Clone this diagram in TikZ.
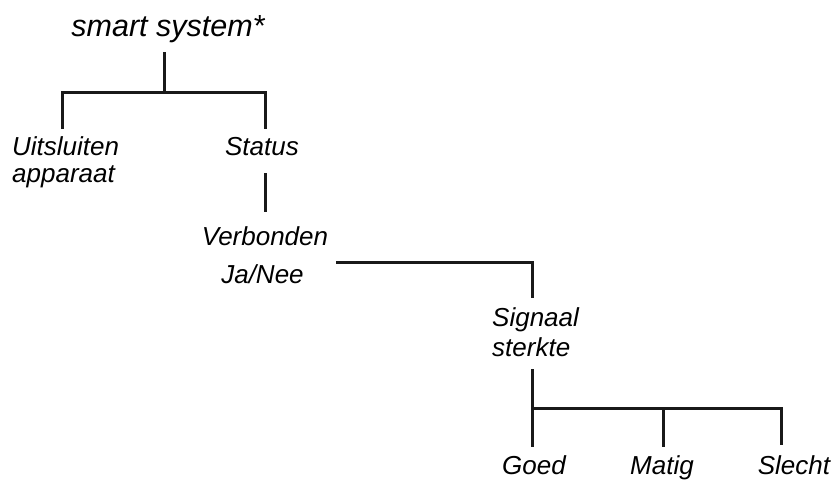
\documentclass[tikz,border=0pt]{standalone}
\usepackage{fontspec}
\setmainfont{Liberation Sans}
\begin{document}
\begin{tikzpicture}[x=1pt,y=-1pt,
  lbl/.style={inner sep=0pt, font=\fontsize{26}{27}\selectfont\itshape},
  ttl/.style={inner sep=0pt, font=\fontsize{30.5}{34}\selectfont\itshape},
  wire/.style={line width=3pt, line join=miter, color=black!90}]
\useasboundingbox (0,0) rectangle (836,480);
% texts
\node[ttl, anchor=base] (t) at (168,36) {smart system*};
\node[lbl, anchor=base west] (u) at (12,155) {\begin{tabular}[t]{@{}l@{}}Uitsluiten\\apparaat\end{tabular}};
\node[lbl, anchor=base] (st) at (262,155) {Status};
\node[lbl, anchor=base] (v) at (265,245) {Verbonden};
\node[lbl, anchor=base] (jn) at (262.5,283) {Ja/Nee};
\node[lbl, anchor=base west] (s) at (492,326) {\begin{tabular}[t]{@{}l@{}}Signaal\\[3pt]sterkte\end{tabular}};
\node[lbl, anchor=base] (g) at (534,474) {Goed};
\node[lbl, anchor=base] (m) at (662,474) {Matig};
\node[lbl, anchor=base] (sl) at (794,474) {Slecht};
% connector points
\coordinate (t0) at (164,52);
\coordinate (t1) at (164,92);
\coordinate (ua) at (62,129);
\coordinate (sa) at (265,129);
\coordinate (sb) at (265,173);
\coordinate (vb) at (265,212);
\coordinate (ja) at (336,262);
\coordinate (sg) at (532,298);
\coordinate (sd) at (532,369);
\coordinate (gd) at (532,447);
\coordinate (hb) at (532,408);
\coordinate (md) at (663,447);
\coordinate (sld) at (781,445);
% connectors
\draw[wire] (t0) -- (t1);
\draw[wire] (ua) |- (t1) -| (sa);
\draw[wire] (sb) -- (vb);
\draw[wire] (ja) -| (sg);
\draw[wire] (sd) -- (gd);
\draw[wire] (hb) -| (sld);
\draw[wire] (hb -| md) -- (md);
\end{tikzpicture}
\end{document}
